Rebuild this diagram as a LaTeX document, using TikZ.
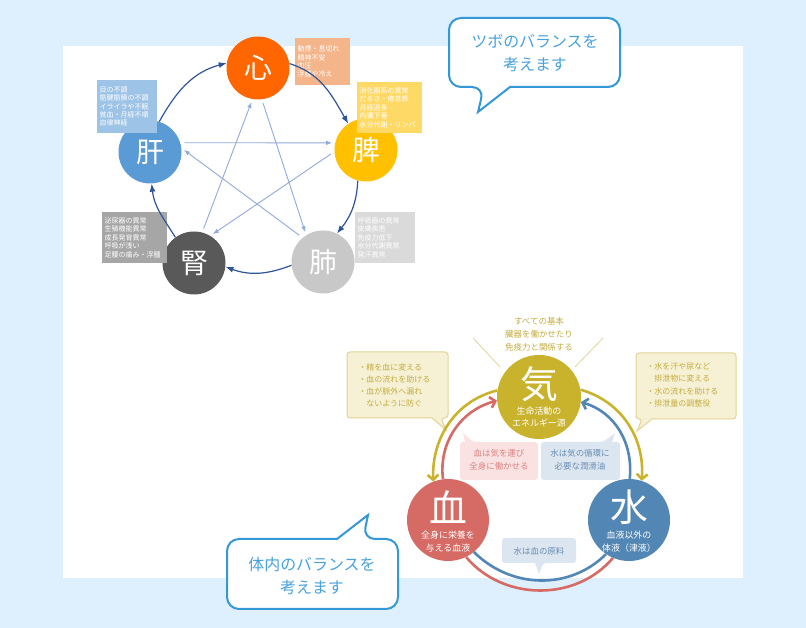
\documentclass[tikz,border=0pt]{standalone}
\usepackage{fontspec}
\newfontfamily\jp{Noto Sans CJK JP}
\usetikzlibrary{arrows.meta}
\definecolor{bgblue}{RGB}{222,239,253}
\definecolor{talkblue}{RGB}{52,152,214}
\definecolor{talktext}{RGB}{72,162,222}
\definecolor{cshin}{RGB}{255,102,0}
\definecolor{chi}{RGB}{255,192,0}
\definecolor{ckan}{RGB}{91,155,213}
\definecolor{chai}{RGB}{200,200,200}
\definecolor{cjin}{RGB}{89,89,89}
\definecolor{cshinbox}{RGB}{244,181,139}
\definecolor{chibox}{RGB}{255,217,102}
\definecolor{ckanbox}{RGB}{157,195,230}
\definecolor{chaibox}{RGB}{218,218,218}
\definecolor{cjinbox}{RGB}{166,166,166}
\definecolor{cnavy}{RGB}{47,85,151}
\definecolor{cpale}{RGB}{143,170,220}
\definecolor{cki}{RGB}{201,179,44}
\definecolor{cketsu}{RGB}{214,106,100}
\definecolor{csui}{RGB}{82,134,180}
\definecolor{kinote}{RGB}{246,241,212}
\definecolor{kiline}{RGB}{226,212,150}
\definecolor{kitext}{RGB}{196,172,62}
\definecolor{pinknote}{RGB}{250,226,226}
\definecolor{pinktext}{RGB}{222,128,128}
\definecolor{bluenote}{RGB}{220,230,240}
\definecolor{bluetext}{RGB}{104,140,178}

\begin{document}
\begin{tikzpicture}[x=1bp,y=1bp,
	organ/.style={circle,minimum size=63bp,inner sep=0pt,text=white,font=\jp\fontsize{28}{30}\selectfont},
	symptom/.style={anchor=north west,text=white,align=left,inner sep=2.5bp,font=\jp\fontsize{7}{8.4}\selectfont},
	sheng/.style={cnavy,line width=1.2bp,-{Latex[length=8bp,width=6bp]}},
	ke/.style={cpale,line width=0.9bp,shorten <=4bp,shorten >=3bp,-{Latex[length=6bp,width=4.5bp]}},
	element/.style={circle,inner sep=0pt},
	flow/.style={line width=2.6bp,-{Straight Barb[length=5bp,width=11bp]}},
	band/.style={line width=2.6bp},
	talk/.style={talkblue,line width=2bp,fill=white},
	talktxt/.style={talktext,align=center,font=\jp\fontsize{16}{23}\selectfont},
	smalltxt/.style={align=center,font=\jp\fontsize{8.5}{13}\selectfont}]

	\useasboundingbox (0,0) rectangle (806,628);
	\fill[bgblue] (0,0) rectangle (806,628);
	\fill[white] (63,50) rectangle (743,582);

	% five organs
	\node[organ,fill=cshin] (shin) at (258,560) {心};
	\node[organ,fill=chi] (hi) at (366,478) {脾};
	\node[organ,fill=ckan] (kan) at (150,476) {肝};
	\node[organ,fill=chai] (hai) at (323,366) {肺};
	\node[organ,fill=cjin] (jin) at (194,365) {腎};

	\node[symptom,fill=cshinbox,text width=50bp,minimum height=47bp] (shinbox) at (295,590) {動悸・息切れ\\精神不安\\血圧\\浮腫や冷え};
	\node[symptom,fill=chibox,text width=60bp,minimum height=51bp] (hibox) at (357,546) {消化器系の異常\\だるさ・倦怠感\\月経過多\\内臓下垂\\水分代謝・リンパ};
	\node[symptom,fill=ckanbox,text width=55bp,minimum height=53bp] (kanbox) at (97,548) {目の不調\\筋腱筋膜の不調\\イライラや不眠\\貧血・月経不順\\自律神経};
	\node[symptom,fill=cjinbox,text width=60bp,minimum height=51bp] (jinbox) at (102,416) {泌尿器の異常\\生殖機能異常\\成長発育異常\\呼吸が浅い\\足腰の痛み・浮腫};
	\node[symptom,fill=chaibox,text width=55bp,minimum height=51bp] (haibox) at (355,416) {呼吸器の異常\\皮膚疾患\\免疫力低下\\水分代謝異常\\発汗異常};

	\draw[sheng] (kan.73) to[out=61,in=195] (shin.171);
	\draw[sheng] (shin.8) to[out=-17,in=120] (hi.124);
	\draw[sheng] (hi.255) to[out=-93,in=51] (hai.64);
	\draw[sheng] (hai.186) to[out=201,in=-20] (jin.-7);
	\draw[sheng] (jin.126) to[out=122,in=-84] (kan.273);

	\draw[ke] (kan.17) -- (hi.167);
	\draw[ke] (hi.183) -- (jin.59);
	\draw[ke] (jin.75) -- (shin.260);
	\draw[ke] (shin.277) -- (hai.122);
	\draw[ke] (hai.130) -- (kan.7);

	% speech bubbles
	\draw[talk,rounded corners=12bp] (449,575) -- (449,541) -- (484,541) [sharp corners] -- (478,516) -- (510,541) [rounded corners=12bp] -- (620,541) -- (620,610) -- (449,610) -- cycle;
	\node[talktxt] (tsubo) at (535,574.5) {ツボのバランスを\\考えます};
	\draw[talk,rounded corners=12bp] (398,55) -- (398,89) -- (363,89) [sharp corners] -- (368,113) -- (337,89) [rounded corners=12bp] -- (227,89) -- (227,19) -- (398,19) -- cycle;
	\node[talktxt] (tainai) at (312,52) {体内のバランスを\\考えます};

	% ki, ketsu, sui
	\node[element,fill=cki,minimum size=84bp] (ki) at (539,231) {};
	\node[element,fill=cketsu,minimum size=82bp] (ketsu) at (448,108) {};
	\node[element,fill=csui,minimum size=82bp] (sui) at (629,108) {};
	\node[text=white,font=\jp\fontsize{38}{38}\selectfont] (kichar) at (539,244) {気};
	\node[text=white,font=\jp\fontsize{38}{38}\selectfont] (ketsuchar) at (448,121) {血};
	\node[text=white,font=\jp\fontsize{38}{38}\selectfont] (suichar) at (629,121) {水};
	\node[smalltxt,text=white,font=\jp\fontsize{9}{12.5}\selectfont] (kisub) at (539,211) {生命活動の\\エネルギー源};
	\node[smalltxt,text=white,font=\jp\fontsize{9}{12.5}\selectfont] (ketsusub) at (448,86.5) {全身に栄養を\\与える血液};
	\node[smalltxt,text=white,font=\jp\fontsize{9}{12.5}\selectfont] (suisub) at (629,86.5) {血液以外の\\体液（津液）};

	\node[smalltxt,text=kitext,font=\jp\fontsize{8.5}{13}\selectfont] (kitop) at (539,294) {すべての基本\\臓器を働かせたり\\免疫力と関係する};
	\coordinate (kl1) at (473,290); \coordinate (kl2) at (500,261);
	\coordinate (kr1) at (603,290); \coordinate (kr2) at (575,261);
	\draw[kiline,line width=0.8bp] (kl1) -- (kl2);
	\draw[kiline,line width=0.8bp] (kr1) -- (kr2);

	\draw[kiline,fill=kinote,line width=1bp,rounded corners=3bp] (347,245) -- (347,276) -- (448,276) -- (448,210) -- (441,210) [sharp corners] -- (446,198) -- (432,210) [rounded corners=3bp] -- (347,210) -- cycle;
	\node[text=kitext,align=left,anchor=west,font=\jp\fontsize{8}{12.3}\selectfont] (kinoteL) at (355,242.5) {・精を血に変える\\・血の流れを助ける\\・血が脈外へ漏れ\\　ないように防ぐ};
	\draw[kiline,fill=kinote,line width=1bp,rounded corners=3bp] (736,245) -- (736,275) -- (636,275) -- (636,209) -- (642,209) [sharp corners] -- (637,197) -- (652,209) [rounded corners=3bp] -- (736,209) -- cycle;
	\node[text=kitext,align=left,anchor=west,font=\jp\fontsize{8}{12.3}\selectfont] (kinoteR) at (643,243) {・水を汗や尿など\\　排泄物に変える\\・水の流れを助ける\\・排泄量の調整役};

	\fill[pinknote,rounded corners=3bp] (499,148) -- (538,148) -- (538,186) -- (473,186) [sharp corners] -- (463,195) -- (465,186) [rounded corners=3bp] -- (460,186) -- (460,148) -- cycle;
	\node[smalltxt,text=pinktext] (pinkmsg) at (499,168) {血は気を運び\\全身に働かせる};
	\fill[bluenote,rounded corners=3bp] (580,148) -- (541,148) -- (541,186) -- (603,186) [sharp corners] -- (615,195) -- (612,186) [rounded corners=3bp] -- (620,186) -- (620,148) -- cycle;
	\node[smalltxt,text=bluetext] (bluemsg) at (580,168) {水は気の循環に\\必要な潤滑油};
	\fill[bluenote,rounded corners=3bp] (502,77) -- (502,90) -- (576,90) -- (576,65) -- (543,65) [sharp corners] -- (539,54) -- (535,65) [rounded corners=3bp] -- (502,65) -- cycle;
	\node[smalltxt,text=bluetext] (suimsg) at (539,77) {水は血の原料};

	\draw[flow,cki] (ki.171) to[out=194,in=92] (ketsu.111);
	\draw[flow,cki] (ki.10) to[out=-16,in=86] (sui.72);
	\draw[flow,cketsu] (ketsu.97) to[out=97,in=195] (ki.185);
	\draw[flow,csui] (sui.89) to[out=84,in=-16] (ki.-7);
	\draw[band,csui] (ketsu.-51) to[out=-45,in=225] (sui.236);
	\draw[band,cketsu] (sui.247) to[out=230,in=-50] (ketsu.-64);

\end{tikzpicture}
\end{document}
